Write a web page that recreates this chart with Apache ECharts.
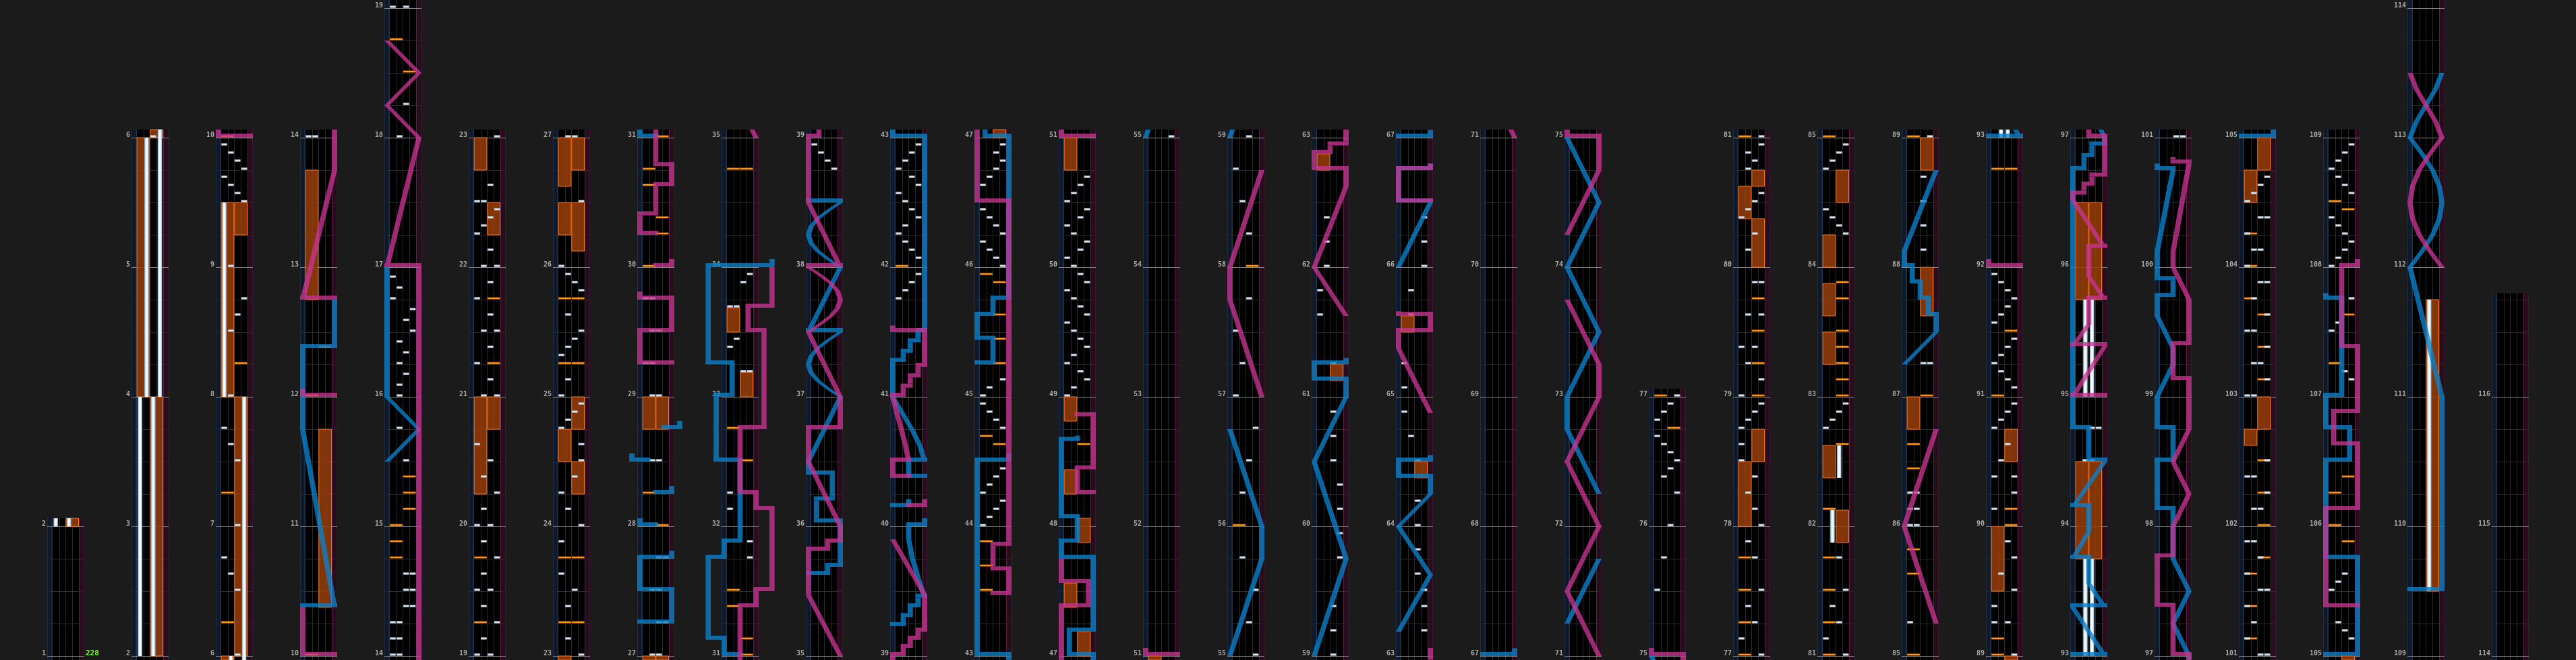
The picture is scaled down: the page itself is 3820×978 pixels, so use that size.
<!DOCTYPE html>
<html><head><meta charset="utf-8">
<script src="https://cdn.jsdelivr.net/npm/echarts@6/dist/echarts.min.js"></script>
<style>html,body{margin:0;padding:0;background:#1b1b1b;overflow:hidden}#c{width:3820px;height:978px}</style>
</head><body><div id="c"></div>
<script>
// ---------- DATA ----------
const colStarts = [1,2,6,10,14,19,23,27,31,35,39,43,47,51,55,59,63,67,71,75,77,81,85,89,93,97,101,105,109,114];
const colEnds   = [2,6,10,14,19,23,27,31,35,39,43,47,51,55,59,63,67,71,75,77,81,85,89,93,97,101,105,109,114,116.8];
const bpmMarks = [[1, 228]];

const btHolds = [["A",2,4],["C",2,4],["B",4,6],["D",4,6],["D",6,8],["A",8,9.5],["B",81.875,82.125],["C",82.375,82.625],
  ["B",93,93.75],["C",93,93.75],["B",95,95.75],["C",95,95.75],["C",109.5,111.75]];

const fxHolds = [["R",2,4],["L",4,6],["R",6,8],["L",8,9.5],["R",9.25,9.5],["R",10.375,11.75],["L",12.75,13.75],
  ["L",20.25,21],["R",20.75,21],["R",22.25,22.5],["L",22.75,23],
  ["R",24.25,24.5],["L",24.5,24.75],["R",24.75,25],["L",26.25,26.5],["R",26.125,26.5],["L",26.625,27],["R",26.75,27],
  ["L",28.75,29],["R",28.75,29],["R",33,33.1875],["L",33.5,33.6875],
  ["R",47,47.1875],["L",47.375,47.5625],["R",47.875,48.0625],["L",48.25,48.4375],["L",48.8125,49],["L",50.75,51],
  ["R",61.125,61.25],["L",62.75,62.875],["R",64.375,64.5],["L",65.5,65.625],
  ["L",78,78.5],["R",78.5,78.75],["R",80,80.375],["L",80.375,80.625],["R",80.625,80.75],
  ["R",81.875,82.125],["L",82.375,82.625],["L",83.25,83.5],["L",83.625,83.875],["L",84,84.25],["R",84.5,84.75],
  ["L",86.75,87],["R",87.625,88],["R",88.75,89],["L",89.5,90],["R",90.5,90.75],
  ["L",93.75,94.5],["R",93.75,94.5],["L",95.75,96.5],["R",95.75,96.5],
  ["L",102.625,102.75],["R",102.75,103],["L",104.5,104.75],["R",104.75,105],["R",109.5,111.75]];

const btChips = [[6,"C"],[6.5,"C"],[6.625,"B"],[6.75,"A"],[7,"C"],[7.5,"C"],[7.625,"B"],[7.75,"A"],[8,"B"],[8.5,"B"],[8.625,"C"],[8.75,"D"],[9,"B"],
  [9.5,"D"],[9.5625,"C"],[9.625,"B"],[9.6875,"A"],[9.75,"D"],[9.8125,"C"],[9.875,"B"],[9.9375,"A"],
  [14,"AB"],[14.125,"AB"],[14.25,"AB"],[14.375,"CD"],[14.5,"CD"],[14.625,"CD"],[15.5,"C"],[15.75,"B"],
  [16,"B"],[16.083,"B"],[16.167,"C"],[16.25,"B"],[16.333,"C"],[16.417,"B"],[16.5,"D"],[16.583,"C"],[16.667,"D"],[16.75,"A"],[16.833,"B"],[16.917,"A"],
  [18,"B"],[18.25,"C"],[19,"AC"],
  [19.125,"B"],[19.25,"D"],[19.375,"B"],[19.5,"AC"],[19.625,"B"],[19.75,"D"],[19.875,"B"],[20,"AC"],[20.125,"B"],[20.25,"D"],[20.375,"B"],[20.5,"C"],[20.625,"A"],
  [21,"BD"],[21.125,"C"],[21.25,"A"],[21.375,"C"],[21.5,"BD"],[21.625,"C"],[21.75,"A"],[21.875,"C"],[22,"BD"],[22.125,"C"],
  [22.25,"A"],[22.3125,"B"],[22.375,"C"],[22.4375,"D"],[22.5,"AB"],[22.625,"C"],[23,"D"],
  [23.125,"B"],[23.375,"B"],[23.5,"C"],[23.625,"A"],[23.875,"A"],[24,"D"],[24.125,"B"],[24.25,"A"],[24.375,"C"],[24.5,"D"],[24.625,"D"],[24.75,"A"],
  [24.8125,"B"],[24.875,"C"],[24.9375,"D"],[25,"A"],[25.125,"B"],[25.3125,"A"],[25.375,"B"],[25.4375,"C"],[25.5,"D"],[25.625,"B"],
  [25.8125,"D"],[25.875,"C"],[25.9375,"B"],[26,"A"],[26.5,"D"],[27,"BC"],
  [27.25,"CD"],[27.5,"BC"],[27.75,"CD"],[28.5,"BC"],[29,"BC"],[29.25,"AB"],[29.5,"BC"],[29.75,"AB"],
  [31.75,"D"],[31.875,"D"],[32.125,"A"],[32.25,"A"],[33.1875,"CD"],[33.375,"A"],[33.4375,"B"],[33.6875,"AB"],[33.875,"C"],[33.9375,"D"],
  [38.75,"D"],[38.8125,"C"],[38.875,"B"],[38.9375,"A"],
  [41.75,"A"],[41.8125,"B"],[41.875,"C"],[41.9375,"D"],[42.0625,"D"],[42.125,"C"],[42.1875,"B"],[42.25,"A"],[42.3125,"B"],[42.375,"D"],[42.4375,"C"],
  [42.5,"B"],[42.5625,"A"],[42.625,"D"],[42.6875,"C"],[42.75,"A"],[42.8125,"B"],[42.875,"C"],[42.9375,"D"],
  [44,"A"],[44.0625,"B"],[44.125,"C"],[44.1875,"D"],[44.25,"A"],[44.3125,"B"],[44.375,"C"],[44.4375,"D"],[44.75,"D"],[44.8125,"C"],[44.875,"B"],[44.9375,"A"],
  [45,"A"],[45.0625,"B"],[45.125,"D"],
  [46,"D"],[46.0625,"C"],[46.125,"B"],[46.1875,"A"],[46.25,"D"],[46.3125,"C"],[46.375,"B"],[46.4375,"A"],[46.625,"A"],[46.6875,"B"],[46.75,"C"],[46.8125,"D"],[46.875,"C"],[46.9375,"D"],
  [49,"A"],[49.0625,"B"],[49.125,"D"],[49.1875,"C"],[49.25,"A"],[49.3125,"B"],[49.375,"D"],[49.4375,"C"],[49.5,"B"],[49.5625,"A"],[49.625,"D"],[49.6875,"C"],
  [49.75,"B"],[49.8125,"A"],[49.875,"D"],[49.9375,"C"],[50,"B"],[50.0625,"A"],[50.125,"C"],[50.1875,"D"],[50.25,"B"],[50.3125,"A"],[50.375,"C"],[50.4375,"D"],
  [50.5,"A"],[50.5625,"B"],[50.625,"C"],[50.6875,"D"],
  [55,"D"],[55.25,"C"],[55.5,"D"],[55.75,"B"],[56.25,"B"],[56.5,"C"],[56.75,"D"],[57,"A"],[57.25,"B"],[57.5,"A"],[57.75,"C"],[58.25,"C"],[58.5,"B"],[58.75,"A"],[59,"C"],
  [59.1875,"C"],[59.375,"C"],[59.75,"D"],[59.9375,"D"],[60.125,"D"],[60.3125,"D"],[60.5,"C"],[60.6875,"C"],[60.875,"C"],[61.25,"C"],[61.625,"A"],[61.8125,"A"],
  [62,"B"],[62.1875,"B"],[62.375,"B"],
  [63.1875,"D"],[63.375,"D"],[63.5,"D"],[63.625,"C"],[63.8125,"C"],[64,"C"],[64.1875,"C"],[64.5,"C"],[64.6875,"B"],[64.875,"A"],[65.0625,"A"],[65.25,"A"],
  [65.625,"B"],[65.8125,"B"],[66,"D"],[66.1875,"D"],[66.375,"D"],
  [75.5,"A"],[75.75,"B"],[76,"C"],[76.25,"D"],[76.375,"B"],[76.4375,"C"],[76.5,"D"],[76.5625,"C"],[76.625,"B"],[76.6875,"A"],[76.8125,"A"],[76.875,"B"],[76.9375,"C"],[77,"D"],
  [77.125,"A"],[77.25,"C"],[77.375,"B"],[77.5,"D"],[77.75,"C"],[77.875,"B"],[78,"D"],[78.125,"C"],[78.25,"B"],[78.375,"C"],[78.5,"A"],[78.625,"A"],[78.75,"A"],
  [78.8125,"B"],[78.875,"C"],[78.9375,"D"],[79,"A"],[79.125,"D"],[79.25,"B"],[79.375,"AC"],[79.625,"BD"],[79.875,"CD"],
  [80.125,"B"],[80.25,"C"],[80.375,"A"],[80.4375,"B"],[80.5,"C"],[80.5625,"D"],[80.75,"B"],[80.8125,"C"],[80.875,"B"],[80.9375,"D"],[81,"D"],
  [81.125,"A"],[81.25,"C"],[81.375,"B"],[81.5,"D"],[81.75,"C"],[82.75,"A"],[82.8125,"B"],[82.875,"C"],[82.9375,"D"],
  [84.25,"D"],[84.3125,"C"],[84.375,"B"],[84.4375,"A"],[84.75,"A"],[84.8125,"B"],[84.875,"C"],[84.9375,"D"],
  [85.25,"A"],[86,"AB"],[86.125,"AB"],[86.25,"AB"],[87.25,"CD"],[88.125,"C"],[88.3125,"C"],[88.5,"C"],[88.6875,"C"],[89,"D"],
  [89.25,"AC"],[89.375,"A"],[89.5,"D"],[89.625,"B"],[89.75,"D"],[89.875,"C"],[90.125,"A"],[90.25,"D"],[90.375,"AD"],[90.5,"B"],[90.625,"C"],
  [90.75,"A"],[90.8125,"B"],[90.875,"C"],[90.9375,"D"],[91.0625,"D"],[91.125,"C"],[91.1875,"B"],[91.25,"A"],[91.3125,"B"],[91.375,"C"],[91.4375,"D"],
  [91.5625,"A"],[91.625,"B"],[91.6875,"C"],[91.75,"D"],[91.8125,"C"],[91.875,"B"],[91.9375,"A"],
  [94.5,"BC"],[94.75,"CD"],[101,"CD"],
  [101.125,"A"],[101.25,"B"],[101.375,"A"],[101.5,"CD"],[101.625,"A"],[101.75,"C"],[101.875,"AB"],[102.125,"BC"],[102.25,"D"],[102.375,"AB"],[102.5,"D"],
  [103,"AB"],[103.125,"D"],[103.25,"BC"],[103.375,"D"],[103.5,"AB"],[103.625,"D"],[103.75,"B"],[103.875,"CD"],[104,"A"],[104.125,"BC"],[104.25,"A"],[104.375,"CD"],
  [104.5,"A"],[104.5625,"B"],[104.625,"C"],[104.6875,"D"],
  [105.125,"D"],[105.1875,"C"],[105.25,"B"],[105.5,"A"],[105.5625,"B"],[105.625,"C"],[107.125,"D"],[107.1875,"C"],[107.5,"A"],[107.5625,"B"],[107.75,"D"],
  [108,"A"],[108.0625,"B"],[108.125,"C"],[108.1875,"D"],[108.25,"C"],[108.3125,"B"],[108.375,"A"],[108.5625,"D"],[108.625,"C"],[108.6875,"B"],[108.75,"A"],
  [108.8125,"B"],[108.875,"C"],[108.9375,"D"]];

const fxChips = [[6.25,"L"],[7.25,"L"],[8.25,"R"],[10,"L"],[12,"L"],[12.375,"R"],[14.75,"L"],[14.875,"L"],[15,"L"],[15.125,"R"],[15.25,"R"],[15.375,"R"],[18.5,"R"],[18.75,"L"],
  [19.25,"L"],[19.75,"L"],[21.25,"R"],[21.75,"R"],[23.25,"LR"],[23.75,"LR"],[25.25,"LR"],[25.75,"LR"],
  [28,"R"],[28.25,"L"],[30,"L"],[30.25,"R"],[30.375,"R"],[30.625,"L"],[30.75,"L"],[31,"R"],
  [31.125,"R"],[31.375,"L"],[31.5,"L"],[32.5,"R"],[32.75,"L"],[34.75,"LR"],[42,"L"],
  [43.5,"L"],[43.6875,"L"],[43.875,"L"],[44.625,"R"],[44.6875,"L"],[45.25,"R"],[45.4375,"R"],[45.625,"R"],[45.875,"R"],[45.9375,"L"],[48.625,"R"],
  [56,"L"],[58,"R"],[76.75,"R"],[77,"L"],[77.25,"L"],[77.5,"L"],[77.75,"L"],[79,"R"],[79.25,"R"],[79.5,"R"],[79.75,"R"],[81,"L"],
  [81.25,"L"],[81.5,"L"],[81.75,"L"],[82.125,"L"],[82.625,"R"],[83,"R"],[83.125,"R"],[83.25,"R"],[83.375,"R"],[83.5,"R"],[83.75,"R"],[83.875,"R"],[85,"L"],
  [85.625,"L"],[85.8125,"L"],[86.4375,"L"],[86.625,"L"],[87,"R"],[89,"L"],[89.125,"L"],[90,"R"],[90.125,"R"],[91,"L"],[91.5,"R"],[92.75,"LR"],
  [101.125,"L"],[101.375,"L"],[101.625,"L"],[101.75,"R"],[102,"R"],[102.25,"R"],[102.5,"R"],[103.125,"R"],[103.375,"R"],[103.625,"R"],[103.75,"L"],[104,"L"],[104.25,"L"],
  [105.875,"R"],[106,"L"],[106.25,"L"],[106.375,"R"],[107.25,"L"],[107.625,"R"],[108.4375,"R"],[108.5,"L"]];

// lasers: lists of [measure position, lateral position 0..1]; equal positions = slam
const laserLeft = [
  [[10.375,0],[10.375,1],[11.75,0],[12.375,0],[12.375,1],[12.75,1]],
  [[15.5,0],[15.75,1],[16,0],[17,0]],
  [[27.25,0],[27.25,1],[27.5,1],[27.5,0],[27.75,0],[27.75,1],[27.8125,1]],
  [[28,0.5],[28,0],[28.0625,0]],
  [[28.25,0.5],[28.25,1],[28.3125,1]],
  [[28.5,0.25],[28.5,-0.25],[28.5625,-0.25]],
  [[28.75,0.75],[28.75,1.25],[28.8125,1.25]],
  [[31,0.5],[31,0],[31.125,0],[31.125,-0.5],[31.75,-0.5],[31.75,0],[31.875,0],[31.875,0.5],[32.5,0.5],[32.5,-0.25],[33,-0.25],[33,0.25],[33.25,0.25],[33.25,-0.5],[34,-0.5],[34,1.5],[34.0625,1.5]],
  [[35.625,0],[35.625,0.6],[35.6875,0.6],[35.6875,1],[36.03,1],[36.03,0.25],[36.2,0.25],[36.2,0.75],[36.4,0.75],[36.4,0],[36.5,0],[37,1],[37.0625,0.62],[37.125,0.29],[37.1875,0.08],[37.25,0],[37.3125,0.08],[37.375,0.29],[37.4375,0.62],[37.5,1],[37.5,0],[38,1],[38.0625,0.62],[38.125,0.29],[38.1875,0.08],[38.25,0],[38.3125,0.08],[38.375,0.29],[38.4375,0.62],[38.5,1],[38.5,0],[38.53,0]],
  [[39.23,0],[39.23,0.33],[39.3,0.33],[39.3,0.55],[39.375,0.55],[39.375,0.8],[39.45,0.8],[39.45,1],[39.6,0.8],[39.75,0.62],[39.9,0.5],[40,0.5],[40,1],[40.0625,1]],
  [[40.15,0],[40.15,0.5],[40.21,0.5]],
  [[40.375,1],[40.375,0.5],[40.5,0.5],[40.5,1],[40.625,0.85],[40.75,0.6],[40.875,0.3],[41,0],[41.27,0],[41.27,0.33],[41.34,0.33],[41.34,0.55],[41.42,0.55],[41.42,0.8],[41.5,0.8],[41.5,1],[43,1],[43,0],[44.5,0],[44.5,1],[44.5625,1]],
  [[45.25,0],[45.25,0.5],[45.44,0.5],[45.44,0],[45.625,0],[45.625,0.5],[45.75,0.5],[45.75,1],[47,1],[47,0.25],[47.1875,0.25],[47.1875,1],[47.75,1],[47.75,0],[47.875,0],[47.875,0.5],[48.0625,0.5],[48.0625,0],[48.66,0],[48.66,0.5],[48.7,0.5]],
  [[55,0],[55.75,1],[56,1],[56.75,0]],
  [[59,0],[59.75,1],[60.5,0],[61,1],[61.125,1],[61.125,0],[61.25,0],[61.25,1],[61.3,1]],
  [[63.1875,0],[63.625,1],[64,0],[64.25,1],[64.375,1],[64.375,0],[64.5,0],[64.5,1],[64.55,1]],
  [[66,0],[66.5,1],[66.5,0],[66.75,0],[66.75,1],[66.8,1]],
  [[67,0],[67,1],[67.06,1]],
  [[71.25,0],[71.75,1]],
  [[72.25,1],[72.75,0],[73,0],[73.5,1],[74,0],[74.5,1],[75,0]],
  [[87.25,0],[87.5,1],[87.625,1],[87.625,0.75],[87.75,0.75],[87.75,0.5],[87.875,0.5],[87.875,0.25],[88,0.25],[88,0],[88.125,0],[88.75,1]],
  [[93,0],[93,1],[93.375,0],[93.375,1],[93.56,0.5],[93.75,0.5],[93.75,0],[93.96,0.5],[94.15,0.5],[94.15,0],[94.5,1],[94.5,0.5],[94.75,0.5],[94.75,0],[96.75,0],[96.75,0.35],[96.85,0.35],[96.85,0.6],[96.94,0.6],[96.94,1],[97,1],
   [97.25,0.5],[97.5,1],[97.75,0.5],[98.125,0.5],[98.125,0],[98.5,0],[98.5,0.5],[98.75,0.5],[98.75,0],[99,0],[99.25,0.5],[99.375,0.5],[99.625,0],[99.77,0],[99.77,0.5],[99.9,0.5],[99.9,0],[100.12,0],[100.75,0.5],[100.75,0],[100.8,0]],
  [[105,0],[105,1],[105.75,1],[105.75,0],[106.5,0],[106.5,0.75],[106.75,0.75],[106.75,0],[107,0],[107,0.5],[107.75,0.5],[107.75,0],[107.8,0]],
  [[109.5,0],[109.5,1],[111,1],[112,0],[112.125,0.38],[112.25,0.71],[112.375,0.92],[112.5,1],[112.625,0.92],[112.75,0.71],[112.875,0.38],[113,0],[113.125,0.2],[113.25,0.5],[113.375,0.8],[113.5,1]]
];
const laserRight = [
  [[10,1],[10,0],[10.375,0]],
  [[12,1],[12,0],[12.0625,0]],
  [[12.75,1],[12.75,0],[13.75,1],[17,1],[17,0],[18,1],[18.25,0],[18.5,1],[18.75,0]],
  [[29.25,1],[29.25,0],[29.5,0],[29.5,1],[29.75,1],[29.75,0],[29.8125,0]],
  [[30,0.5],[30,1],[30.0625,1]],
  [[30.25,0.5],[30.25,0],[30.4,0],[30.4,0.5],[30.625,0.5],[30.625,1],[30.78,1],[30.78,0.5],[31.375,0.5],[31.375,1],[31.5,1],[31.5,1.5],[32.125,1.5],[32.125,1],[32.25,1],[32.25,0.5],[32.75,0.5],[32.75,1.25],[33.5,1.25],[33.5,0.75],[33.6875,0.75],[33.6875,1.5],[34,1.5]],
  [[35,1],[35.47,0],[35.8125,0],[35.8125,0.6],[35.875,0.6],[35.875,1],[36,1],[36.5,0],[36.75,0],[36.75,1],[37,1],[37.5,0],[37.5625,0.38],[37.625,0.71],[37.6875,0.92],[37.75,1],[37.8125,0.92],[37.875,0.71],[37.9375,0.38],[38,0],[38,1],[38.5,0],[39,0],[39,0.33],[39.0625,0.33],[39.0625,0.55],[39.125,0.55],[39.125,0.8],[39.1875,0.8],[39.1875,1],[39.47,1],[39.6,0.7],[39.75,0.35],[39.9,0]],
  [[40.15,0.5],[40.15,1],[40.21,1]],
  [[40.375,0.5],[40.375,0],[40.5,0],[40.5,0.5],[40.625,0.4],[40.75,0.27],[40.875,0.13],[41,0],[41,0.33],[41.07,0.33],[41.07,0.55],[41.15,0.55],[41.15,0.8],[41.23,0.8],[41.23,1],[41.5,1],[41.5,0],[41.55,0]],
  [[43.47,0.5],[43.47,1],[43.66,1],[43.66,0.5],[43.85,0.5],[43.85,1],[46.5,1],[46.5,0],[47.375,0],[47.375,0.85],[47.5625,0.85],[47.5625,0],[47.75,0]],
  [[48.25,1],[48.25,0.5],[48.44,0.5],[48.44,1],[48.85,1],[48.85,0.5],[48.88,0.5]],
  [[51,1],[51,0],[51.0625,0]],
  [[57,1],[57.75,0],[58,0],[58.75,1]],
  [[61.625,1],[62,0],[62.625,1],[62.75,1],[62.75,0],[62.875,0],[62.875,0.5],[62.94,0.5],[62.94,1],[63.0625,1]],
  [[64.875,1],[65.375,0],[65.5,0],[65.5,1],[65.625,1],[65.625,0],[65.66,0]],
  [[66.5,1],[66.5,0],[66.75,0],[66.75,1],[66.8,1]],
  [[71,1],[71.5,0],[72,1],[72.5,0],[73,1],[73.25,1],[73.75,0]],
  [[74.25,0],[74.75,1],[75,1],[75,0],[75.0625,0]],
  [[85.25,1],[86,0],[86.75,1]],
  [[92,1],[92,0],[92.0625,0]],
  [[95,1],[95,0],[95.39,1],[95.39,0],[95.56,0.5],[95.75,0.5],[95.75,1],[95.93,0.5],[96.15,0.5],[96.15,1],[96.52,0],[96.56,0],[96.56,0.35],[96.63,0.35],[96.63,0.6],[96.7,0.6],[96.7,1],[97,1],
   [97,0.5],[97.38,0.5],[97.38,0],[97.76,0],[97.76,0.5],[98,0.5],[98.25,1],[98.5,0.5],[98.75,1],[99.13,1],[99.13,0.5],[99.4,0.5],[99.4,1],[99.75,1],[100,0.5],[100.12,0.5],[100.8,1],[100.8,0.5],[100.85,0.5]],
  [[105.375,1],[105.375,0],[106.125,0],[106.125,1],[106.625,1],[106.625,0.25],[106.875,0.25],[106.875,1],[107.375,1],[107.375,0.5],[108,0.5],[108,1],[108.0625,1]],
  [[112,1],[112.125,0.62],[112.25,0.29],[112.375,0.08],[112.5,0],[112.625,0.08],[112.75,0.29],[112.875,0.62],[113,1],[113.125,0.8],[113.25,0.5],[113.375,0.2],[113.5,0]]
];

// ---------- LAYOUT (pixels in x-axis units) ----------
const N = colStarts.length;
const COL_X0 = 70, COL_STEP = 125;
const LL = 7.7, BTW = 9.83, COLW = 55, RL = 47;
const LX0 = 3.85, LXU = 47.3, HW = 3.85;
const colLeft = i => COL_X0 + COL_STEP * i;
const colLo = i => colStarts[i] - 1/32;
const colHi = i => (i === N - 1 ? colEnds[i] : colEnds[i] + 1/16);
const LANE = {A:0,B:1,C:2,D:3};

const chart = echarts.init(document.getElementById('c'), null, {renderer:'canvas'});

function P(api, i, dx, pos){ return api.coord([colLeft(i) + dx, pos - colStarts[i]]); }

function renderColumn(params, api){
  const i = api.value(0);
  const lo = colLo(i), hi = colHi(i), left = colLeft(i);
  const top = P(api,i,0,hi)[1], bot = P(api,i,0,lo)[1], h = bot - top;
  const ch = [];
  const R = (x,y,w,hh,fill)=>ch.push({type:'rect',shape:{x,y,width:w,height:hh},style:{fill}});
  const L = (x1,y1,x2,y2,stroke)=>ch.push({type:'line',shape:{x1,y1,x2,y2},style:{stroke,lineWidth:1}});
  R(left, top, LL, h, '#0f1929');
  R(left+LL, top, RL-LL, h, '#000000');
  R(left+RL, top, COLW-RL, h, '#270e1d');
  for (let b = Math.ceil(lo*4)/4; b <= hi + 1e-9; b += 0.25) {
    if (Math.abs(b - Math.round(b)) < 1e-6) continue;
    const y = Math.round(P(api,i,0,b)[1]) + 0.5;
    L(left+LL, y, left+RL, y, '#2c2c2c');
    L(left, y, left+LL, y, '#1a2536');
    L(left+RL, y, left+COLW, y, '#3a1a2c');
  }
  for (let k = 1; k < 4; k++) { const x = Math.round(left+LL+BTW*k)+0.5; L(x, top, x, bot, '#2a2a2a'); }
  L(left+0.5, top, left+0.5, bot, '#1a2c42');
  L(left+LL-0.5, top, left+LL-0.5, bot, '#24476a');
  L(left+RL+0.5, top, left+RL+0.5, bot, '#5a1f43');
  L(left+COLW-0.5, top, left+COLW-0.5, bot, '#3d1530');
  for (let m = Math.ceil(lo); m <= hi + 1e-9; m++) {
    const y = Math.round(P(api,i,0,m)[1]) + 0.5;
    L(left, y, left+COLW, y, '#8a8a8a');
    ch.push({type:'text', style:{text:String(m), x:left-2, y:y-4, fill:'#a9a9a9',
      font:'bold 10px "DejaVu Sans Mono", monospace', textAlign:'right', textVerticalAlign:'middle', align:'right', verticalAlign:'middle'}});
  }
  return {type:'group', children:ch};
}

function visibleCols(a, b){ const r=[]; for(let i=0;i<N;i++){ if (b >= colLo(i) && a <= colHi(i)) r.push(i);} return r; }

function renderFxHold(params, api){
  const s = api.value(0), e = api.value(1), side = api.value(2);
  const ch = [];
  visibleCols(s,e).forEach(i=>{
    const a = Math.max(s, colLo(i)), b = Math.min(e, colHi(i));
    if (b <= a) return;
    const ya = P(api,i,0,a)[1], yb = P(api,i,0,b)[1];
    ch.push({type:'rect', shape:{x:colLeft(i)+LL+side*2*BTW+0.5, y:yb, width:2*BTW-1, height:ya-yb},
      style:{fill:'rgba(150,62,10,0.86)', stroke:'#ff7415', lineWidth:1}});
  });
  return {type:'group', children:ch};
}

const btHoldFill = new echarts.graphic.LinearGradient(0,0,1,0,[{offset:0,color:'#7ea9c4'},{offset:0.35,color:'#f4fbff'},{offset:0.65,color:'#f4fbff'},{offset:1,color:'#7ea9c4'}]);
function renderBtHold(params, api){
  const s = api.value(0), e = api.value(1), lane = api.value(2);
  const ch = [];
  visibleCols(s,e).forEach(i=>{
    const a = Math.max(s, colLo(i)), b = Math.min(e, colHi(i));
    if (b <= a) return;
    const ya = P(api,i,0,a)[1], yb = P(api,i,0,b)[1];
    ch.push({type:'rect', shape:{x:colLeft(i)+LL+lane*BTW+1.6, y:yb, width:BTW-3.2, height:ya-yb}, style:{fill:btHoldFill}});
  });
  return {type:'group', children:ch};
}

function renderBtChip(params, api){
  const p = api.value(0), lane = api.value(1);
  const ch = [];
  visibleCols(p,p).forEach(i=>{
    const y = P(api,i,0,p)[1];
    ch.push({type:'rect', shape:{x:colLeft(i)+LL+lane*BTW+0.8, y:y-3.4, width:BTW-1.6, height:2.8}, style:{fill:'#dfe8f0', stroke:'#9fb3c6', lineWidth:0.5}});
  });
  return {type:'group', children:ch};
}
const fxChipFill = new echarts.graphic.LinearGradient(0,0,0,1,[{offset:0,color:'#ff7000'},{offset:0.5,color:'#ffb400'},{offset:1,color:'#ff6a00'}]);
function renderFxChip(params, api){
  const p = api.value(0), side = api.value(1);
  const ch = [];
  visibleCols(p,p).forEach(i=>{
    const y = P(api,i,0,p)[1];
    ch.push({type:'rect', shape:{x:colLeft(i)+LL+side*2*BTW+0.5, y:y-3.4, width:2*BTW-1, height:2.8}, style:{fill:fxChipFill}});
  });
  return {type:'group', children:ch};
}

function laserRenderer(paths, color){
  return function(params, api){
    const path = paths[api.value(0)];
    const ch = [];
    let prevSlam = false;
    for (let k = 0; k < path.length - 1; k++) {
      const p1 = path[k][0], x1 = path[k][1], p2 = path[k+1][0], x2 = path[k+1][1];
      const slam = Math.abs(p2 - p1) < 1e-9;
      for (let i = 0; i < N; i++) {
        const lo = colLo(i), hi = colHi(i);
        const X = v => LX0 + v * LXU;
        if (slam) {
          if (p1 < lo || p1 > hi) continue;
          const b = Math.min(p1 + 1/32, hi);
          const xa = Math.min(x1,x2), xb = Math.max(x1,x2);
          const A1 = P(api,i,X(xa)-HW,p1), A2 = P(api,i,X(xb)+HW,p1), B2 = P(api,i,X(xb)+HW,b), B1 = P(api,i,X(xa)-HW,b);
          ch.push({type:'polygon', shape:{points:[A1,A2,B2,B1]}, style:{fill:color}});
        } else {
          const start = prevSlam ? p1 + 1/32 : p1;
          const a = Math.max(start, lo), b = Math.min(p2, hi);
          if (b <= a) continue;
          const xa = x1 + (x2-x1)*(a-p1)/(p2-p1), xb = x1 + (x2-x1)*(b-p1)/(p2-p1);
          const pts = [P(api,i,X(xa)-HW,a), P(api,i,X(xa)+HW,a), P(api,i,X(xb)+HW,b), P(api,i,X(xb)-HW,b)];
          ch.push({type:'polygon', shape:{points:pts}, style:{fill:color}});
        }
      }
      prevSlam = slam;
    }
    return {type:'group', children:ch};
  };
}

function renderBpm(params, api){
  const p = api.value(0), bpm = api.value(1);
  const ch = [];
  visibleCols(p,p).slice(0,1).forEach(i=>{
    const y = P(api,i,COLW+2,p);
    ch.push({type:'text', style:{text:String(bpm), x:y[0], y:y[1]-4, fill:'#80ff10',
      font:'bold 11px "DejaVu Sans Mono", monospace', textAlign:'left', textVerticalAlign:'middle', align:'left', verticalAlign:'middle'}});
  });
  return {type:'group', children:ch};
}

const btChipData = [];
btChips.forEach(([p, ls]) => ls.split('').forEach(c => btChipData.push([p, LANE[c]])));
const fxChipData = [];
fxChips.forEach(([p, s]) => s.split('').forEach(c => fxChipData.push([p, c === 'L' ? 0 : 1])));

chart.setOption({
  backgroundColor:'#1b1b1b',
  animation:false,
  grid:{left:0,right:0,top:0,bottom:0},
  xAxis:{type:'value', min:0, max:3820, show:false},
  yAxis:{type:'value', min:-1/32, max:5.0625, show:false},
  series:[
    {type:'custom', z:1, silent:true, data:colStarts.map((s,i)=>[i]), renderItem:renderColumn},
    {type:'custom', z:2, silent:true, data:fxHolds.map(h=>[h[1],h[2],h[0]==='L'?0:1]), renderItem:renderFxHold},
    {type:'custom', z:3, silent:true, data:btHolds.map(h=>[h[1],h[2],LANE[h[0]]]), renderItem:renderBtHold},
    {type:'custom', z:4, silent:true, data:fxChipData, renderItem:renderFxChip},
    {type:'custom', z:5, silent:true, data:btChipData, renderItem:renderBtChip},
    {type:'custom', z:6, silent:true, data:laserLeft.map((l,k)=>[k]), renderItem:laserRenderer(laserLeft,'rgba(12,128,200,0.8)')},
    {type:'custom', z:7, silent:true, data:laserRight.map((l,k)=>[k]), renderItem:laserRenderer(laserRight,'rgba(200,52,146,0.78)')},
    {type:'custom', z:8, silent:true, data:bpmMarks, renderItem:renderBpm}
  ]
});
</script>
</body></html>
